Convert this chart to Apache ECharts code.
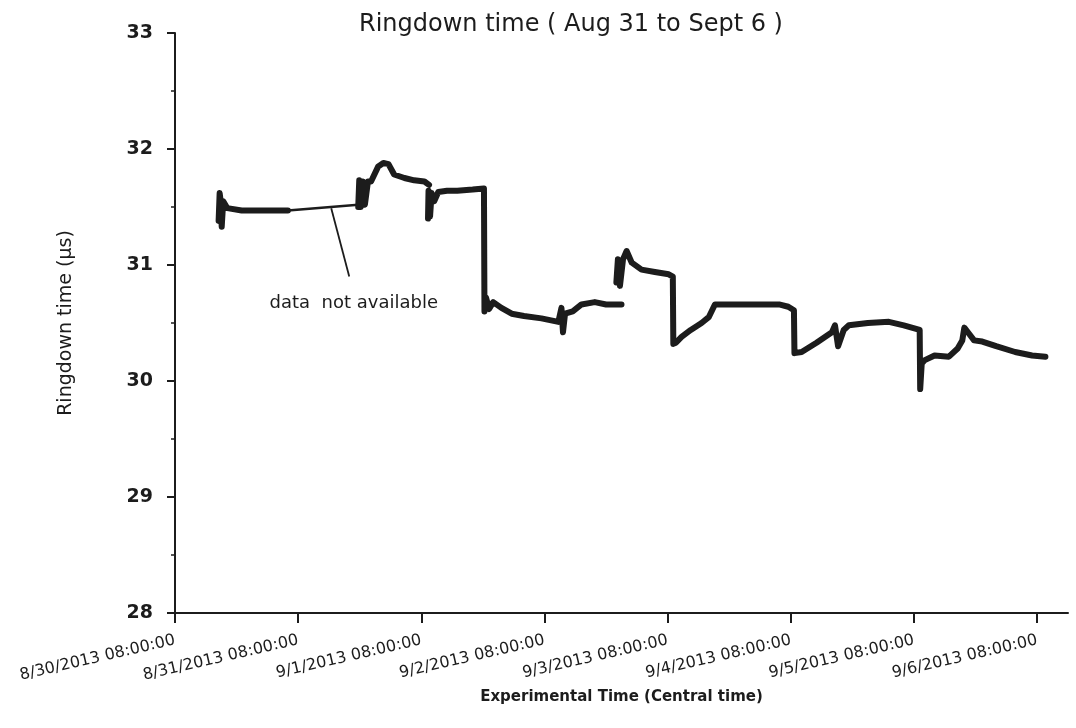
<!DOCTYPE html>
<html>
<head>
<meta charset="utf-8">
<title>Ringdown time (Aug 31 to Sept 6)</title>
<script src="https://cdn.jsdelivr.net/npm/echarts@6/dist/echarts.min.js"></script>
<style>
  html, body { margin: 0; padding: 0; background: #ffffff; }
  #chart { width: 1076px; height: 728px; }
</style>
</head>
<body>
<div id="chart"></div>
<script>
// Hours elapsed since 8/30/2013 08:00:00 (Central time). null separates logged runs.
const hours = [
  8.5, 8.7, 8.9, 9.1, 9.4, 10.2, 13, 16, 19, 22, null,
  35.7, 35.9, 36.2, 36.6, 37.0, 37.6, 38.2, 39.6, 40.6, 41.6, 42.7, 44.7, 46.6, 48.6, 49.5, null,
  49.3, 49.4, 49.7, 50.0, 50.5, 51.3, 53, 55, 58, 60.2, 60.3, 60.6, 61.2, 62, 63.6, 65.6, 68, 71.4,
  74.7, 75.3, 75.6, 76, 77.5, 79.2, 81.8, 84, 87.0, null,
  86.0, 86.3, 86.7, 87.3, 88.0, 89.0, 90.9, 93.5, 96.2, 97.0, 97.1, 97.6, 98.7, 100.5, 102.6, 104,
  105.2, 109.1, 113, 117.7, 119.5, 120.6, 120.7, 122.1, 125, 128, 128.6, 129.2, 130.3, 131.3, 135,
  139.1, 142, 145.1, 145.2, 145.5, 146.1, 148, 150.8, 152.5, 153.4, 153.8, 154.5, 155.7, 157.3,
  160, 163.7, 167, 169.6
];

// Ringdown time (µs) for each entry of hours
const ringdown = [
  31.38, 31.62, 31.55, 31.33, 31.55, 31.49, 31.47, 31.47, 31.47, 31.47, null,
  31.50, 31.73, 31.50, 31.72, 31.52, 31.72, 31.72, 31.85, 31.88, 31.87, 31.78, 31.75, 31.73, 31.72, 31.69, null,
  31.40, 31.64, 31.42, 31.62, 31.55, 31.63, 31.64, 31.64, 31.65, 31.66, 30.60, 30.72, 30.62, 30.68, 30.63, 30.58, 30.56, 30.54,
  30.51, 30.63, 30.42, 30.58, 30.60, 30.66, 30.68, 30.66, 30.66, null,
  30.85, 31.05, 30.82, 31.05, 31.12, 31.02, 30.96, 30.94, 30.92, 30.90, 30.32, 30.33, 30.38, 30.44, 30.50, 30.55,
  30.66, 30.66, 30.66, 30.66, 30.64, 30.61, 30.24, 30.25, 30.33, 30.42, 30.48, 30.30, 30.44, 30.48, 30.50,
  30.51, 30.48, 30.44, 29.93, 30.15, 30.18, 30.22, 30.21, 30.28, 30.35, 30.46, 30.42, 30.35, 30.34,
  30.30, 30.25, 30.22, 30.21
];

// Period with no logged data, bridged by a straight line
const gapHours = [22, 35.7];
const gapRingdown = [31.47, 31.52];

// Daily ticks on the time axis and their labels
const dayTicks = [0, 24, 48, 72, 96, 120, 144, 168];
const tickLabels = [
  '8/30/2013 08:00:00', '8/31/2013 08:00:00', '9/1/2013 08:00:00', '9/2/2013 08:00:00',
  '9/3/2013 08:00:00', '9/4/2013 08:00:00', '9/5/2013 08:00:00', '9/6/2013 08:00:00'
];

// Annotation arrow: tail (under the note) and head (on the bridging line)
const noteText = 'data  not available';
const noteTail = [33.95, 30.90];
const noteHead = [30.44, 31.49];

const ink = '#1c1c1c';
const font = 'DejaVu Sans';

const mainData = hours.map((h, i) => (h === null ? ['-', '-'] : [h, ringdown[i]]));
const gapData = gapHours.map((h, i) => [h, gapRingdown[i]]);

const chart = echarts.init(document.getElementById('chart'), null, { renderer: 'canvas' });

chart.setOption({
  backgroundColor: '#ffffff',
  animation: false,
  title: {
    text: 'Ringdown time ( Aug 31 to Sept 6 )',
    left: 354,
    top: 8,
    textStyle: { fontFamily: font, fontSize: 24, fontWeight: 'normal', color: ink }
  },
  grid: { left: 175, right: 8, top: 33, bottom: 115, containLabel: false },
  xAxis: {
    type: 'value',
    min: 0,
    max: 174,
    interval: 24,
    name: 'Experimental Time (Central time)',
    nameLocation: 'middle',
    nameGap: 68,
    nameTextStyle: { fontFamily: font, fontSize: 15, fontWeight: 'bold', color: ink },
    splitLine: { show: false },
    axisLine: { show: true, onZero: false, lineStyle: { color: ink, width: 2 } },
    axisTick: { show: true, inside: false, length: 10, customValues: dayTicks, lineStyle: { color: ink, width: 2 } },
    axisLabel: {
      customValues: dayTicks,
      rotate: 13,
      margin: 27,
      fontFamily: font,
      fontSize: 16,
      color: ink,
      formatter: (v) => {
        const i = dayTicks.indexOf(v);
        return i >= 0 ? tickLabels[i] : '';
      }
    }
  },
  yAxis: {
    type: 'value',
    min: 28,
    max: 33,
    interval: 1,
    name: 'Ringdown time (µs)',
    nameLocation: 'middle',
    nameGap: 99,
    nameTextStyle: { fontFamily: font, fontSize: 19, color: ink },
    splitLine: { show: false },
    axisLine: { show: true, onZero: false, lineStyle: { color: ink, width: 2 } },
    axisTick: { show: true, inside: false, length: 8, lineStyle: { color: ink, width: 2 } },
    minorTick: { show: true, splitNumber: 2, length: 4, lineStyle: { color: ink, width: 1.5 } },
    axisLabel: { margin: 22, fontFamily: font, fontSize: 19, fontWeight: 'bold', color: ink }
  },
  series: [
    {
      name: 'Ringdown time',
      type: 'line',
      data: mainData,
      showSymbol: false,
      connectNulls: false,
      lineStyle: { color: ink, width: 6, join: 'round', cap: 'round' },
      silent: true,
      z: 3
    },
    {
      name: 'No data',
      type: 'line',
      data: gapData,
      showSymbol: false,
      lineStyle: { color: ink, width: 2.5 },
      silent: true,
      z: 2,
      markLine: {
        silent: true,
        symbol: ['none', 'arrow'],
        symbolSize: [0, 9],
        lineStyle: { color: ink, width: 1.8, type: 'solid' },
        label: {
          show: true,
          position: 'start',
          distance: 18,
          formatter: noteText,
          fontFamily: font,
          fontSize: 18,
          color: ink
        },
        data: [[{ coord: noteTail }, { coord: noteHead }]]
      }
    }
  ]
});
</script>
</body>
</html>
